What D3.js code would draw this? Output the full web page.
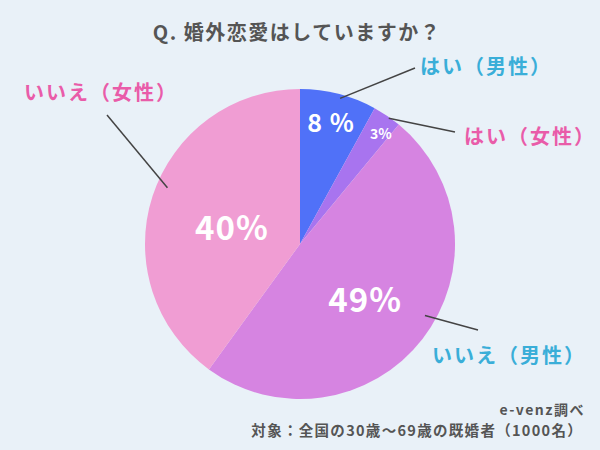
<!DOCTYPE html>
<html><head><meta charset="utf-8">
<script src="https://cdn.jsdelivr.net/npm/d3@7"></script>
<style>
html,body{margin:0;padding:0;background:#e9f1f8;}
svg{display:block;}
text{font-family:"Noto Sans CJK JP","Noto Sans",sans-serif;}
</style></head><body>
<svg id="c" width="600" height="450"></svg>
<script>
const categories = ["はい（男性）", "はい（女性）", "いいえ（男性）", "いいえ（女性）"];
const values = [8, 3, 49, 40];
const valueLabels = ["8 %", "3%", "49%", "40%"];
const colors = ["#5071f8", "#a874ef", "#d684e1", "#f09dd3"];
const labelColors = ["#3aaed8", "#e95ca9", "#3aaed8", "#e95ca9"];

const W = 600, H = 450, cx = 300, cy = 244, R = 155;
const svg = d3.select("#c");
svg.append("rect").attr("width", W).attr("height", H).attr("fill", "#e9f1f8");

svg.append("text").attr("x", 297).attr("y", 40).attr("text-anchor", "middle")
  .attr("font-size", 20).attr("font-weight", "bold").attr("fill", "#555")
  .attr("letter-spacing", 1.5)
  .text("Q. 婚外恋愛はしていますか？");

const pie = d3.pie().sort(null).value(d => d);
const arcs = pie(values);
const arc = d3.arc().innerRadius(0).outerRadius(R);
const g = svg.append("g").attr("transform", `translate(${cx},${cy})`);
g.selectAll("path").data(arcs).enter().append("path")
  .attr("d", arc).attr("fill", (d, i) => colors[i]);

// inside value labels (radius, angle offset, font size)
const inLayout = [
  {r: 125, da: 0, fs: 25},
  {r: 137, da: 2, fs: 14},
  {r: 86, da: 3, fs: 33},
  {r: 70, da: -5, fs: 33}
];
const polar = (r, a) => [r * Math.sin(a), -r * Math.cos(a)];
arcs.forEach((d, i) => {
  const L = inLayout[i];
  const mid = (d.startAngle + d.endAngle) / 2 + L.da * Math.PI / 180;
  const [x, y] = polar(L.r, mid);
  g.append("text").attr("x", x).attr("y", y).attr("dy", "0.36em")
    .attr("text-anchor", "middle").attr("font-size", L.fs).attr("font-weight", "bold")
    .attr("fill", "#fff").attr("letter-spacing", i === 1 ? 0 : 1).text(valueLabels[i]);
});

// outer labels with leader lines
const outLayout = [
  {r: 151, da: 1, end: [415, 68], lx: 486, ly: 74},
  {r: 154, da: 1, end: [455, 132], lx: 530, ly: 144},
  {r: 144, da: -8, end: [478, 330], lx: 509, ly: 363},
  {r: 144, da: 5, end: [107, 115], lx: 101, ly: 100}
];
arcs.forEach((d, i) => {
  const L = outLayout[i];
  const mid = (d.startAngle + d.endAngle) / 2 + L.da * Math.PI / 180;
  const [x, y] = polar(L.r, mid);
  svg.append("line").attr("x1", cx + x).attr("y1", cy + y)
    .attr("x2", L.end[0]).attr("y2", L.end[1])
    .attr("stroke", "#444").attr("stroke-width", 1.5);
  svg.append("text").attr("x", L.lx).attr("y", L.ly).attr("text-anchor", "middle")
    .attr("font-size", 20).attr("font-weight", "bold").attr("fill", labelColors[i])
    .attr("letter-spacing", 2)
    .text(categories[i]);
});

svg.append("text").attr("x", 585).attr("y", 415).attr("text-anchor", "end")
  .attr("font-size", 14).attr("font-weight", "bold").attr("fill", "#555")
  .attr("letter-spacing", 1.5).text("e-venz調べ");
svg.append("text").attr("x", 583).attr("y", 436).attr("text-anchor", "end")
  .attr("font-size", 14.5).attr("font-weight", "bold").attr("fill", "#555")
  .attr("letter-spacing", 1.3)
  .text("対象：全国の30歳～69歳の既婚者（1000名）");
</script></body></html>
